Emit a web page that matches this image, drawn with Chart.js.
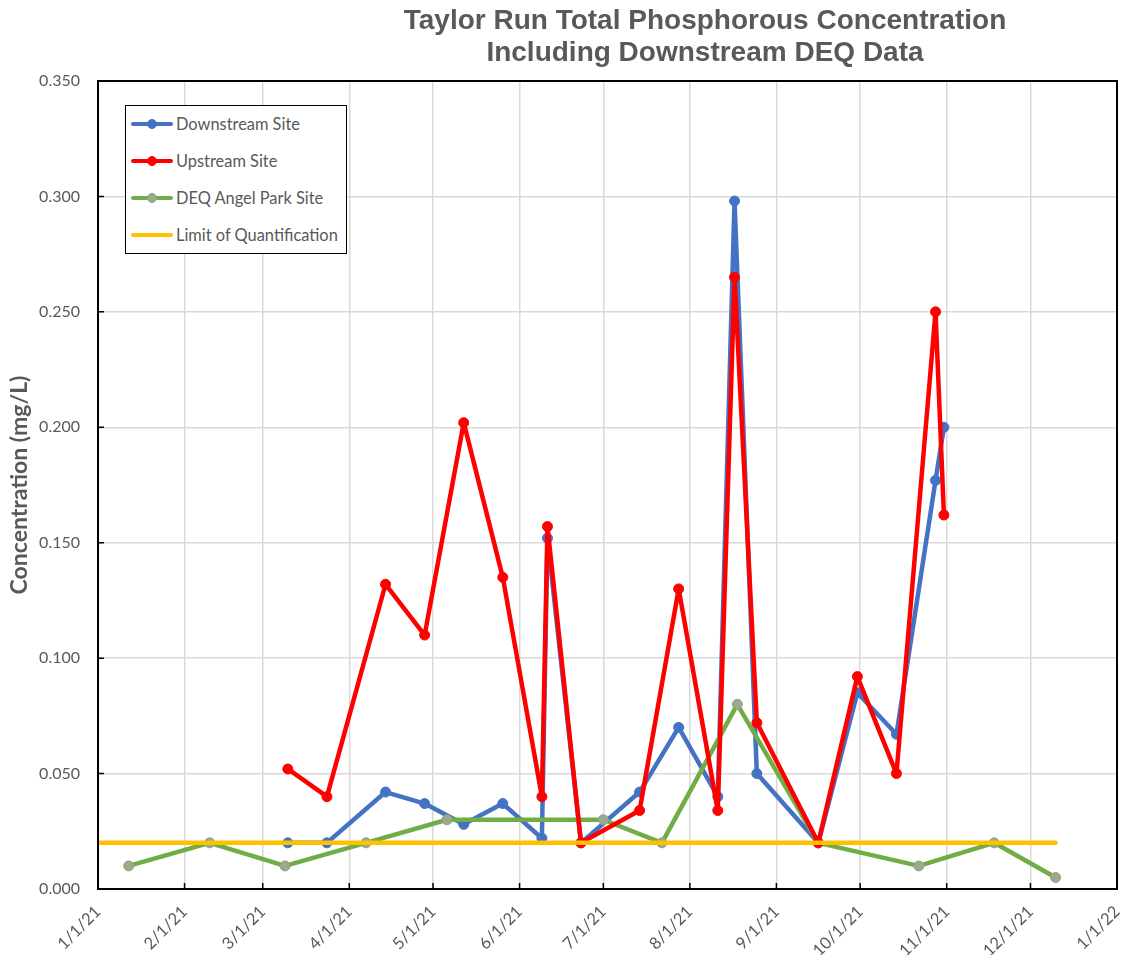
<!DOCTYPE html>
<html>
<head>
<meta charset="utf-8">
<script src="https://cdn.jsdelivr.net/npm/chart.js@4.4.0/dist/chart.umd.min.js"></script>
<style>
  body { margin: 0; background: #fff; }
  #wrap { position: relative; width: 1129px; height: 955px; }
  #title {
    position: absolute; left: 305px; top: 4px; width: 800px;
    text-align: center; color: #595959;
    font: bold 28px "Liberation Sans", Arial, sans-serif; line-height: 32px;
  }
  #legend {
    position: absolute; left: 125px; top: 105px; width: 222px; height: 149px;
    box-sizing: border-box; border: 1.5px solid #000; background: #fff;
  }
  .row { position: absolute; left: 0; height: 20px; width: 100%; }
  .swatch { position: absolute; left: 5px; top: 8px; width: 42px; height: 4px; border-radius: 2px; }
  .dot { position: absolute; left: 16px; top: -3px; width: 10px; height: 10px; border-radius: 50%; box-sizing: border-box; }
  .lbl { position: absolute; left: 50px; top: 0; line-height: 20px; font: 16.4px Lato, sans-serif; color: #595959; white-space: nowrap; }
</style>
</head>
<body>
<div id="wrap">
  <canvas id="chart" width="1129" height="955"></canvas>
  <div id="title">Taylor Run Total Phosphorous Concentration<br>Including Downstream DEQ Data</div>
  <div id="legend"></div>
</div>
<script>
// =========================
// DATA
// =========================
const monthStarts = ["2021-01-01","2021-02-01","2021-03-01","2021-04-01","2021-05-01","2021-06-01",
  "2021-07-01","2021-08-01","2021-09-01","2021-10-01","2021-11-01","2021-12-01","2022-01-01"];
const monthLabels = ["1/1/21","2/1/21","3/1/21","4/1/21","5/1/21","6/1/21",
  "7/1/21","8/1/21","9/1/21","10/1/21","11/1/21","12/1/21","1/1/22"];

const siteDates = ["2021-03-10","2021-03-24","2021-04-14","2021-04-28","2021-05-12","2021-05-26",
  "2021-06-09","2021-06-11","2021-06-23","2021-07-14","2021-07-28","2021-08-11","2021-08-17",
  "2021-08-25","2021-09-16","2021-09-30","2021-10-14","2021-10-28","2021-10-31"];
const downstreamValues = [0.020,0.020,0.042,0.037,0.028,0.037,0.022,0.152,0.020,0.042,0.070,
  0.040,0.298,0.050,0.020,0.085,0.067,0.177,0.200];
const upstreamValues = [0.052,0.040,0.132,0.110,0.202,0.135,0.040,0.157,0.020,0.034,0.130,
  0.034,0.265,0.072,0.020,0.092,0.050,0.250,0.162];

const deqDates = ["2021-01-12","2021-02-10","2021-03-09","2021-04-07","2021-05-06","2021-07-01",
  "2021-07-22","2021-08-18","2021-09-16","2021-10-22","2021-11-18","2021-12-10"];
const deqValues = [0.010,0.020,0.010,0.020,0.030,0.030,0.020,0.080,0.020,0.010,0.020,0.005];

const loqDates = ["2021-01-01","2021-12-10"];
const loqValues = [0.020,0.020];

const seriesNames = ["Downstream Site","Upstream Site","DEQ Angel Park Site","Limit of Quantification"];

// =========================
// HELPERS
// =========================
const day0 = Date.parse(monthStarts[0]);
const toDay = s => (Date.parse(s) - day0) / 86400000;
const pts = (dates, vals) => dates.map((d, i) => ({ x: toDay(d), y: vals[i] }));
const monthTicks = monthStarts.map(toDay);

const GRAY = "#595959";
const styles = [
  { line: "#4472c4", fill: "#4472c4", edge: "#4472c4", r: 5 },
  { line: "#ff0000", fill: "#ff0000", edge: "#ff0000", r: 5 },
  { line: "#70ad47", fill: "#9ca88f", edge: "#8aa777", r: 5 },
  { line: "#ffc000", fill: "#ffc000", edge: "#ffc000", r: 0 }
];

// =========================
// LEGEND (html)
// =========================
const legendEl = document.getElementById("legend");
seriesNames.forEach((name, i) => {
  const s = styles[i];
  const row = document.createElement("div");
  row.className = "row";
  row.style.top = (8 + i * 37) + "px";
  let dot = s.r ? `<div class="dot" style="background:${s.fill};border:1px solid ${s.edge}"></div>` : "";
  row.innerHTML = `<div class="swatch" style="background:${s.line}">${dot}</div><div class="lbl">${name}</div>`;
  legendEl.appendChild(row);
});

// =========================
// FRAME + INNER TICKS
// =========================
const framePlugin = {
  id: "frame",
  afterDraw(chart) {
    const { ctx, chartArea: a, scales } = chart;
    ctx.save();
    ctx.strokeStyle = "#000";
    ctx.lineWidth = 2;
    ctx.strokeRect(a.left, a.top, a.right - a.left, a.bottom - a.top);
    ctx.lineWidth = 1.5;
    ctx.beginPath();
    scales.x.ticks.forEach(t => {
      const x = scales.x.getPixelForValue(t.value);
      ctx.moveTo(x, a.bottom);
      ctx.lineTo(x, a.bottom - 6);
    });
    scales.y.ticks.forEach(t => {
      const y = scales.y.getPixelForValue(t.value);
      ctx.moveTo(a.left, y);
      ctx.lineTo(a.left + 6, y);
    });
    ctx.stroke();
    ctx.restore();
  }
};

// =========================
// CHART
// =========================
function ds(i, data, order) {
  const s = styles[i];
  return {
    label: seriesNames[i],
    data: data,
    borderColor: s.line,
    borderWidth: 4.5,
    pointRadius: s.r,
    pointHoverRadius: s.r,
    pointBackgroundColor: s.fill,
    pointBorderColor: s.edge,
    pointBorderWidth: 1,
    borderJoinStyle: "round",
    borderCapStyle: "round",
    tension: 0,
    order: order
  };
}

new Chart(document.getElementById("chart").getContext("2d"), {
  type: "line",
  data: {
    datasets: [
      ds(0, pts(siteDates, downstreamValues), 3),
      ds(1, pts(siteDates, upstreamValues), 1),
      ds(2, pts(deqDates, deqValues), 2),
      ds(3, pts(loqDates, loqValues), 0)
    ]
  },
  plugins: [framePlugin],
  options: {
    responsive: false,
    animation: false,
    layout: { padding: { top: 81, right: 12, left: 0, bottom: 0 } },
    plugins: { legend: { display: false }, title: { display: false }, tooltip: { enabled: false } },
    scales: {
      x: {
        type: "linear",
        min: monthTicks[0],
        max: monthTicks[monthTicks.length - 1],
        afterBuildTicks: ax => { ax.ticks = monthTicks.map(v => ({ value: v })); },
        afterFit: ax => { ax.height = 66; ax.paddingLeft = 0; ax.paddingRight = 0; },
        grid: { color: "#d9d9d9", lineWidth: 1.5, drawTicks: false },
        border: { display: false },
        ticks: {
          autoSkip: false, minRotation: 45, maxRotation: 45, padding: 13,
          color: GRAY, font: { family: "Lato", size: 16.5 },
          callback: (v, i) => monthLabels[i]
        }
      },
      y: {
        min: 0, max: 0.35,
        afterFit: ax => { ax.width = 98; ax.paddingTop = 0; ax.paddingBottom = 0; },
        grid: { color: "#d9d9d9", lineWidth: 1.5, drawTicks: false },
        border: { display: false },
        ticks: {
          stepSize: 0.05, padding: 18, color: GRAY,
          font: { family: "Lato", size: 16 },
          callback: v => v.toFixed(3)
        },
        title: {
          display: true, text: "Concentration (mg/L)", color: GRAY,
          font: { family: "Lato", size: 23, weight: "bold" },
          padding: { top: 6, bottom: 0 }
        }
      }
    }
  }
});
</script>
</body>
</html>
